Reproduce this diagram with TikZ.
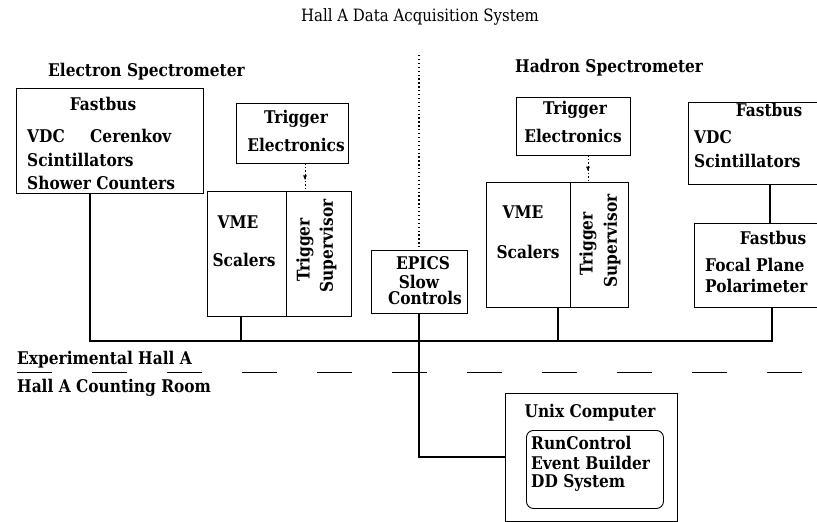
\documentclass[tikz,border=0pt]{standalone}
\usepackage{fontspec}
\setmainfont{DejaVu Serif}[FakeStretch=0.88]
\usetikzlibrary{arrows.meta,calc}
\begin{document}
\begin{tikzpicture}[x=1pt,y=-1pt,
  box/.style={draw,line width=0.9pt,anchor=north west,inner sep=0pt,outer sep=0pt},
  txt/.style={font=\bfseries\fontsize{17.5}{19}\selectfont,inner sep=0pt},
  wire/.style={line width=1.8pt},
  link/.style={line width=1.4pt},
  dots/.style={line width=1.2pt,dash pattern=on 1.3pt off 2.6pt},
  trigarrow/.style={line width=0.8pt,dash pattern=on 1.5pt off 2pt},
  tip/.style={line width=0.8pt,-{Latex[length=5pt,width=4pt]}},
]
\useasboundingbox (0,0) rectangle (817,522);

% title and headings
\node[font=\fontsize{17}{19}\selectfont,inner sep=0pt] (title) at (420,17) {Hall A Data Acquisition System};
\node[txt,anchor=west] (eh) at (48,72) {Electron Spectrometer};
\node[txt,anchor=west] (hh) at (515,68) {Hadron Spectrometer};

% ---------- electron side ----------
\node[box,minimum width=187pt,minimum height=105pt] (efb) at (16,88) {};
\node[txt] (efbt) at (103,104) {Fastbus};
\node[txt,anchor=west] (evdc) at (27,136) {VDC};
\node[txt,anchor=west] (ecer) at (90,136) {Cerenkov};
\node[txt,anchor=west] (escin) at (27,160) {Scintillators};
\node[txt,anchor=west] (eshow) at (27,183) {Shower Counters};

\node[box,minimum width=112pt,minimum height=60pt] (etrig) at (236,103) {};
\node[txt] (etrig1) at (296,119) {Trigger};
\node[txt] (etrig2) at (296,145) {Electronics};

\node[box,minimum width=144pt,minimum height=125pt] (evme) at (207,191) {};
\draw[line width=0.9pt] ($(evme.north west)+(79,0)$) -- ($(evme.south west)+(79,0)$);
\node[txt] (evmet) at (238,222) {VME};
\node[txt] (escal) at (244,260) {Scalers};
\node[txt,rotate=90] (etsup1) at (305,250) {Trigger};
\node[txt,rotate=90] (etsup2) at (328,246) {Supervisor};

\coordinate (ea) at (305,0);
\draw[trigarrow] (etrig.south -| ea) -- (evme.north -| ea);
\path (etrig.south -| ea) -- (evme.north -| ea) coordinate[pos=0.62] (eam);
\draw[tip] ($(eam)+(0,-5)$) -- (eam);

% ---------- middle ----------
\node[box,minimum width=96pt,minimum height=63pt] (epics) at (371,250) {};
\node[txt] (ep1) at (423,263) {EPICS};
\node[txt] (ep2) at (419,282) {Slow};
\node[txt] (ep3) at (425,298) {Controls};
\coordinate (dtop) at (419,55);
\draw[dots] (dtop) -- (epics.north);

% ---------- hadron side ----------
\node[box,minimum width=114pt,minimum height=58pt] (htrig) at (516,97) {};
\node[txt] (htrig1) at (575,110) {Trigger};
\node[txt] (htrig2) at (573,136) {Electronics};

\node[box,minimum width=142pt,minimum height=125pt] (hvme) at (486,182) {};
\draw[line width=0.9pt] ($(hvme.north west)+(84,0)$) -- ($(hvme.south west)+(84,0)$);
\node[txt] (hvmet) at (523,212) {VME};
\node[txt] (hscal) at (528,252) {Scalers};
\node[txt,rotate=90] (htsup1) at (588,244) {Trigger};
\node[txt,rotate=90] (htsup2) at (612,241) {Supervisor};

\coordinate (ha) at (588,0);
\draw[trigarrow] (htrig.south -| ha) -- (hvme.north -| ha);
\path (htrig.south -| ha) -- (hvme.north -| ha) coordinate[pos=0.62] (ham);
\draw[tip] ($(ham)+(0,-5)$) -- (ham);

\node[box,minimum width=140pt,minimum height=82pt] (hfb) at (688,102) {};
\node[txt] (hfbt) at (769,110) {Fastbus};
\node[txt,anchor=west] (hvdc) at (694,137) {VDC};
\node[txt,anchor=west] (hscin) at (694,161) {Scintillators};

\node[box,minimum width=135pt,minimum height=84pt] (fpp) at (694,223) {};
\node[txt] (fppt) at (773,238) {Fastbus};
\node[txt,anchor=west] (fpp1) at (705,265) {Focal Plane};
\node[txt,anchor=west] (fpp2) at (705,286) {Polarimeter};

\coordinate (hl) at (770,0);
\draw[link] (hfb.south -| hl) -- (fpp.north -| hl);

% ---------- bus ----------
\coordinate (busL) at (90,341);
\coordinate (busR) at (772,341);
\coordinate (ec) at (241,341);
\coordinate (hc) at (558,341);
\draw[wire] (efb.south -| busL) -- (busL) -- (busR) -- (fpp.south -| busR);
\draw[wire] (evme.south -| ec) -- (ec);
\draw[wire] (hvme.south -| hc) -- (hc);

% ---------- hall separator ----------
\node[txt,anchor=west] (exph) at (17,360) {Experimental Hall A};
\node[txt,anchor=west] (cnt) at (17,388) {Hall A Counting Room};
\coordinate (sepL) at (17,372);
\coordinate (sepR) at (830,372);
\draw[line width=1pt,dash pattern=on 35pt off 40pt] (sepL) -- (sepR);

% ---------- unix computer ----------
\node[box,minimum width=172pt,minimum height=128pt] (unix) at (505,393) {};
\node[txt] (unixt) at (590,413) {Unix Computer};
\node[draw,line width=0.9pt,rounded corners=7pt,anchor=north west,minimum width=137pt,minimum height=78pt,inner sep=0pt] (inner) at (526,430) {};
\node[txt,anchor=west] (rc) at (531,443) {RunControl};
\node[txt,anchor=west] (eb) at (531,463) {Event Builder};
\node[txt,anchor=west] (dd) at (531,483) {DD System};

\draw[wire] (epics.south) |- (unix.west);
\end{tikzpicture}
\end{document}
